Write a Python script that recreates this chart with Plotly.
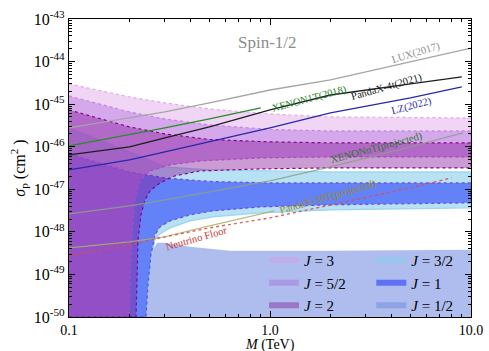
import plotly.graph_objects as go

# ---------------- data ----------------
M_up = [0.1, 0.2, 0.3, 0.5, 1.0, 2.0, 10.0]
up_J3 = [2.98e-45, 1.48e-45, 1.07e-45, 7.71e-46, 5.89e-46, 5.01e-46, 4.74e-46]
up_J52 = [1.56e-45, 6.56e-46, 4.50e-46, 3.25e-46, 2.55e-46, 2.35e-46, 2.35e-46]
up_J2 = [7.31e-46, 2.92e-46, 2.00e-46, 1.48e-46, 1.30e-46, 1.23e-46, 1.23e-46]
up_J32 = [2.76e-46, 7.55e-47, 3.36e-47, 2.85e-47, 2.70e-47, 2.56e-47, 2.56e-47]
up_J1 = [6.78e-47, 2.56e-47, 1.85e-47, 1.53e-47, 1.41e-47, 1.41e-47, 1.41e-47]

M_low_J3 = [10, 1.99, 0.892, 0.448, 0.318, 0.253, 0.2255, 0.213, 0.2058, 0.2011, 0.1989]
low_J3 = [5.77e-47, 5.77e-47, 5.46e-47, 4.64e-47, 3.74e-47, 2.70e-47, 1.66e-47,
          5.64e-48, 1.11e-48, 7.47e-50, 1e-50]
M_low_J2 = [10, 1.99, 0.892, 0.448, 0.337, 0.2836, 0.2529, 0.2388, 0.2281, 0.2205, 0.2180, 0.2155]
low_J2 = [3.18e-47, 3.18e-47, 3.01e-47, 2.70e-47, 2.07e-47, 1.41e-47, 9.16e-48,
          5.64e-48, 2.51e-48, 6.49e-49, 1.28e-49, 1e-50]
M_low_blue = [10, 1.99, 0.892, 0.520, 0.40, 0.318, 0.2836, 0.2679, 0.2559, 0.2472, 0.2416]
low_J32 = [3.66e-48, 3.28e-48, 2.79e-48, 2.25e-48, 1.81e-48, 1.24e-48, 8.97e-49,
           6.49e-49, 2.20e-49, 4.35e-50, 1e-50]
low_J1 = [4.80e-48, 4.31e-48, 3.86e-48, 3.11e-48, 2.51e-48, 1.81e-48, 1.31e-48,
          8.51e-49, 2.88e-49, 5.70e-50, 1e-50]
M_J12 = [0.2416, 0.2472, 0.2529, 0.2618, 0.2741, 0.3003, 0.40, 0.632, 1.99, 10, 10]
sig_J12 = [1e-50, 4.35e-50, 1.68e-49, 3.78e-49, 5.52e-49, 5.52e-49, 4.45e-49,
           3.58e-49, 3.58e-49, 3.78e-49, 1e-50]

M_lines = [0.1, 0.2, 0.3, 0.5, 1.0, 2.0, 5.0, 10.0]
lux = [2.76e-46, 4.74e-46, 6.56e-46, 1.07e-45, 2.15e-45, 3.70e-45, 9.8e-45, 2.08e-44]
M_exp = [0.1, 0.2, 0.3, 0.5, 1.0, 2.0, 5.0, 9.0]
pandax4t = [6.43e-47, 9.89e-47, 1.61e-46, 2.92e-46, 7.31e-46, 1.64e-45, 2.98e-45, 4.35e-45]
lz = [2.85e-47, 4.90e-47, 7.55e-47, 1.30e-46, 2.76e-46, 6.21e-46, 1.40e-45, 2.54e-45]
M_x1t = [0.1, 0.2, 0.3, 0.5, 0.9]
xenon1t = [1.045e-46, 1.89e-46, 2.76e-46, 4.50e-46, 8.15e-46]
M_xnt = [0.1, 0.2, 0.3, 0.5, 1.0, 2.0, 5.0, 9.1]
xenonnt = [2.65e-48, 4.07e-48, 5.64e-48, 8.69e-48, 1.57e-47, 3.36e-47, 9.89e-47, 2.11e-46]
M_p30 = [0.1, 0.2, 0.3, 0.5, 1.05]
pandax30t = [4.21e-49, 5.82e-49, 7.64e-49, 1.38e-48, 3.11e-48]
M_nu = [0.1, 0.2, 0.3, 0.5, 1.0, 2.0, 5.0, 8.0]
nufloor = [2.74e-49, 4.95e-49, 7.64e-49, 1.24e-48, 2.13e-48, 4.31e-48, 1.08e-47, 1.85e-47]

x_ticks = [0.1, 1.0, 10.0]
x_ticktext = ["0.1", "1.0", "10.0"]
y_exps = [-50, -49, -48, -47, -46, -45, -44, -43]

FONT = "Liberation Serif"

col = {
    "J3": "rgba(220,150,230,0.40)",
    "J52": "rgba(170,100,220,0.40)",
    "J2": "rgba(130,20,150,0.42)",
    "J32": "rgba(135,206,235,0.60)",
    "J1": "rgba(40,60,250,0.58)",
    "J12": "rgba(120,145,225,0.60)",
}
edge = {
    "J3": ("rgba(225,160,235,0.9)", "dot"),
    "J52": ("rgba(175,110,225,0.7)", "dot"),
    "J2": ("rgb(140,0,140)", "dot"),
    "J32": ("rgba(150,210,240,0.9)", "solid"),
    "J1": ("rgba(110,60,230,0.9)", "dot"),
}

fig = go.Figure()


def band(key, up, mlow, low):
    xs = M_up + mlow + [M_up[0]]
    ys = up + low + [1e-50]
    c, d = edge[key]
    fig.add_trace(go.Scatter(x=xs, y=ys, mode="lines", fill="toself",
                             fillcolor=col[key], line=dict(color=c, width=1.2, dash=d),
                             showlegend=False, hoverinfo="skip"))


# lower J=1/2 region
fig.add_trace(go.Scatter(x=M_J12, y=sig_J12, mode="lines", fill="toself",
                         fillcolor=col["J12"], line=dict(width=0),
                         showlegend=False, hoverinfo="skip"))
band("J32", up_J32, M_low_blue, low_J32)
band("J1", up_J1, M_low_blue, low_J1)
band("J3", up_J3, M_low_J3, low_J3)
band("J52", up_J52, M_low_J3, low_J3)
band("J2", up_J2, M_low_J2, low_J2)

# experimental lines
fig.add_trace(go.Scatter(x=M_lines, y=lux, mode="lines", line=dict(color="rgb(165,165,165)", width=1.3), showlegend=False))
fig.add_trace(go.Scatter(x=M_exp, y=pandax4t, mode="lines", line=dict(color="rgb(30,30,30)", width=1.3), showlegend=False))
fig.add_trace(go.Scatter(x=M_exp, y=lz, mode="lines", line=dict(color="rgb(40,40,170)", width=1.3), showlegend=False))
fig.add_trace(go.Scatter(x=M_x1t, y=xenon1t, mode="lines", line=dict(color="rgb(40,140,40)", width=1.3), showlegend=False))
fig.add_trace(go.Scatter(x=M_xnt, y=xenonnt, mode="lines", line=dict(color="rgba(140,160,140,0.85)", width=1.3), showlegend=False))
fig.add_trace(go.Scatter(x=M_p30, y=pandax30t, mode="lines", line=dict(color="rgba(175,175,100,0.85)", width=1.1), showlegend=False))
fig.add_trace(go.Scatter(x=M_nu, y=nufloor, mode="lines", line=dict(color="rgba(215,80,80,0.9)", width=1.4, dash="dot"), showlegend=False))

# legend entries
legend_items = [
    ("<i>J</i> = 3", "J3", "legend"),
    ("<i>J</i> = 5/2", "J52", "legend"),
    ("<i>J</i> = 2", "J2", "legend"),
    ("<i>J</i> = 3/2", "J32", "legend2"),
    ("<i>J</i> = 1", "J1", "legend2"),
    ("<i>J</i> = 1/2", "J12", "legend2"),
]
for name, key, lg in legend_items:
    fig.add_trace(go.Scatter(x=[None, None, None], y=[None, None, None], mode="none", fill="toself",
                             fillcolor=col[key], name=name, legend=lg, showlegend=True))

# text labels
labels = [
    ("XENON1T(2018)", 0.195, -44.878, "rgb(30,130,30)", -15),
    ("LUX(2017)", 0.726, -43.798, "rgb(140,140,140)", -17),
    ("PandaX-4t(2021)", 0.582, -44.596, "rgb(20,20,20)", -16),
    ("LZ(2022)", 0.706, -45.042, "rgb(40,40,170)", -15),
    ("XENONnT(projected)", 0.532, -46.028, "rgb(40,120,40)", -15),
    ("PandaX-30T(projected)", 0.289, -47.178, "rgb(150,140,30)", -16),
    ("Neutrino Floor", -0.368, -48.164, "rgb(200,50,50)", -16),
]
for t, lx, ly, c, a in labels:
    fig.add_annotation(x=lx, y=ly, xref="x", yref="y", text=t, showarrow=False,
                       textangle=a, font=dict(family=FONT, size=10.5, color=c))
fig.add_annotation(x=-0.01, y=-43.563, xref="x", yref="y", text="Spin-1/2", showarrow=False,
                   font=dict(family=FONT, size=17, color="rgb(140,140,140)"))

minor_x = [k * 0.1 for k in range(2, 10)] + [float(k) for k in range(2, 10)]
minor_y = [k * 10.0 ** e for e in range(-50, -43) for k in range(2, 10)]

fig.update_xaxes(type="log", range=[-1, 1], tickmode="array", tickvals=x_ticks, ticktext=x_ticktext,
                 ticks="inside", ticklen=6, tickwidth=1, tickcolor="black",
                 minor=dict(tickvals=minor_x, ticks="inside", ticklen=3, tickcolor="black"),
                 showline=True, linecolor="black", linewidth=1.2, mirror="allticks",
                 showgrid=False, zeroline=False,
                 tickfont=dict(family=FONT, size=14, color="black"),
                 automargin=False)
fig.update_yaxes(type="log", range=[-50, -43], tickmode="array",
                 tickvals=[10.0 ** e for e in y_exps],
                 ticktext=["10<sup>%d</sup>" % e for e in y_exps],
                 ticks="inside", ticklen=6, tickwidth=1, tickcolor="black",
                 minor=dict(tickvals=minor_y, ticks="inside", ticklen=3, tickcolor="black"),
                 showline=True, linecolor="black", linewidth=1.2, mirror="allticks",
                 showgrid=False, zeroline=False,
                 tickfont=dict(family=FONT, size=16, color="black"),
                 title=dict(text="<i>σ</i><sub>p</sub> (cm<sup>2</sup> )", font=dict(family=FONT, size=16, color="black"), standoff=4),
                 automargin=False)

# x-axis title placed just under the tick labels
fig.add_annotation(x=0.5, y=0, xref="paper", yref="paper", yshift=-18, yanchor="top",
                   text="<i>M</i> (TeV)", showarrow=False,
                   font=dict(family=FONT, size=14, color="black"))

leg_common = dict(bgcolor="rgba(0,0,0,0)", borderwidth=0, orientation="v",
                  xanchor="left", yanchor="top", font=dict(family=FONT, size=15, color="black"),
                  itemclick=False, itemdoubleclick=False, tracegroupgap=0)
fig.update_layout(
    width=489, height=351,
    margin=dict(l=69, r=18, t=19, b=34),
    paper_bgcolor="white", plot_bgcolor="white",
    legend=dict(x=0.485, y=0.245, **leg_common),
    legend2=dict(x=0.752, y=0.245, **leg_common),
)

fig.write_html("out.html")
